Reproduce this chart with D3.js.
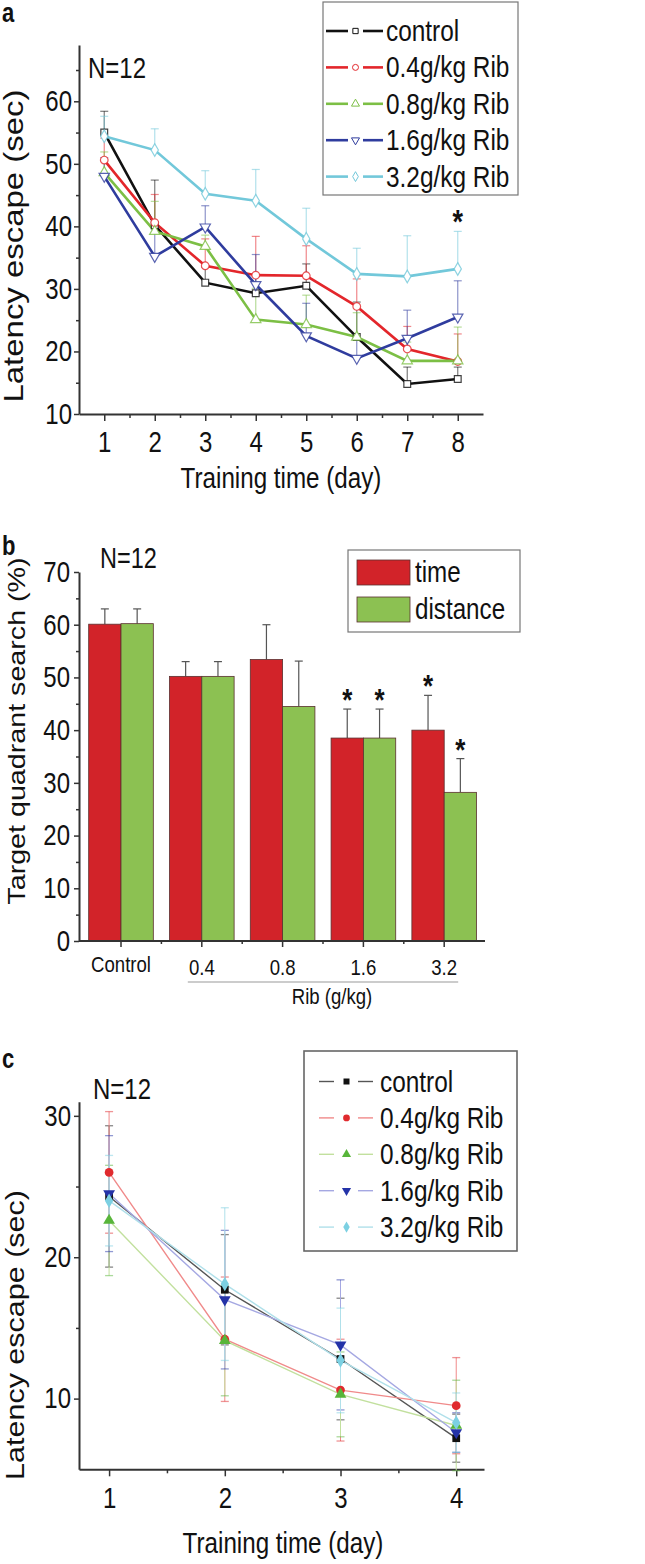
<!DOCTYPE html>
<html>
<head>
<meta charset="utf-8">
<script src="https://cdn.jsdelivr.net/npm/d3@7"></script>
<style>
  body { margin: 0; background: #fff; }
  svg { display: block; }
</style>
</head>
<body>
<div id="container"></div>
<script>
var w = 645,
  h = 1564;

var FONT = "'Liberation Sans', Arial, sans-serif";
var S = 1.22; // the figure is stretched vertically, text too

// ---- panel a data (latency, 8 training days)
var daysA = [1, 2, 3, 4, 5, 6, 7, 8];
var groupNames = ["control", "0.4g/kg Rib", "0.8g/kg Rib", "1.6g/kg Rib", "3.2g/kg Rib"];
var aControl = [55.0, 40.2, 31.0, 29.3, 30.5, 22.3, 14.8, 15.6];
var aRib04 = [50.6, 40.6, 33.7, 32.2, 32.1, 27.2, 20.4, 18.4];
var aRib08 = [48.6, 39.2, 36.8, 25.1, 24.3, 22.3, 18.5, 18.5];
var aRib16 = [48.0, 35.2, 39.9, 30.7, 22.5, 18.9, 22.1, 25.5];
var aRib32 = [54.4, 52.2, 45.2, 44.1, 38.0, 32.4, 32.0, 33.2];
var aControlErr = [3.4, 7.2, 2.5, 2.7, 3.5, 5.6, 2.7, 1.9];
var aRib04Err = [3.5, 4.5, 4.3, 6.2, 4.8, 4.4, 3.6, 4.4];
var aRib08Err = [3.3, 4.8, 1.8, 5.0, 4.7, 3.9, 3.0, 5.4];
var aRib16Err = [3.0, 4.3, 3.4, 4.8, 5.2, 3.0, 4.5, 5.8];
var aRib32Err = [3.2, 3.4, 3.7, 5.0, 4.9, 4.1, 6.5, 6.0];
var aYTicks = [10, 20, 30, 40, 50, 60];
var aYMinor = [15, 25, 35, 45, 55, 65];
var aXMinor = [1.5, 2.5, 3.5, 4.5, 5.5, 6.5, 7.5];

// ---- panel b data (probe trial)
var bCats = ["Control", "0.4", "0.8", "1.6", "3.2"];
var bSeries = ["time", "distance"];
var bTime = [60.1, 50.2, 53.4, 38.5, 40.0];
var bTimeErr = [2.9, 2.8, 6.6, 5.5, 6.6];
var bDist = [60.2, 50.2, 44.5, 38.5, 28.2];
var bDistErr = [2.8, 2.8, 8.6, 5.5, 6.4];
var bTimeSig = [false, false, false, true, true];
var bDistSig = [false, false, false, true, true];
var bYTicks = [0, 10, 20, 30, 40, 50, 60, 70];
var bYMinor = [5, 15, 25, 35, 45, 55, 65];

// ---- panel c data (latency, 4 days)
var daysC = [1, 2, 3, 4];
var cControl = [24.3, 17.7, 12.8, 7.2];
var cRib04 = [26.0, 14.2, 10.6, 9.5];
var cRib08 = [22.6, 14.1, 10.3, 8.1];
var cRib16 = [24.5, 17.0, 13.8, 7.6];
var cRib32 = [24.0, 18.1, 12.7, 8.3];
var cControlErr = [5.0, 3.9, 4.3, 1.7];
var cRib04Err = [4.3, 4.4, 3.6, 3.4];
var cRib08Err = [3.9, 3.9, 3.0, 3.2];
var cRib16Err = [4.1, 4.9, 4.6, 1.4];
var cRib32Err = [3.2, 5.4, 3.7, 2.1];
var cYTicks = [10, 20, 30];
var cYMinor = [15, 25];
var cXMinor = [1.5, 2.5, 3.5];

var aColors = ["#111111", "#e3262b", "#7cbf45", "#2f3c9e", "#72c8da"];
var cLineColors = ["#555555", "#f08a8a", "#c2e09e", "#a5a8e2", "#b0e0ea"];
var cMarkColors = ["#111111", "#e02a2e", "#58b53a", "#2433a8", "#7cd0e2"];
var symbols = [d3.symbolSquare, d3.symbolCircle, d3.symbolTriangle, d3.symbolTriangle, d3.symbolDiamond];
var flip = [false, false, false, true, false];

var svg = d3.select("#container").append("svg")
  .attr("width", w)
  .attr("height", h);

svg.append("rect").attr("width", w).attr("height", h).attr("fill", "#fff");

// text drawn with the same vertical stretch as the reference
function label(parent, x, y, size, txt, anchor, rotate, bold) {
  return parent.append("text")
    .attr("transform", "translate(" + x + "," + y + ") scale(1," + S + ")" + (rotate ? " rotate(-90)" : ""))
    .attr("text-anchor", anchor || "start")
    .attr("font-family", FONT)
    .attr("font-weight", bold ? "bold" : null)
    .attr("font-size", size)
    .attr("fill", "#111")
    .text(txt);
}

function styleAxis(g, bottom, base) {
  g.select(".domain").attr("stroke", "#333").attr("stroke-width", 2);
  g.selectAll(".tick line").attr("stroke", "#333").attr("stroke-width", 1.5);
  var t = g.selectAll(".tick text")
    .attr("font-family", FONT)
    .attr("font-size", 24)
    .attr("fill", "#111")
    .attr("transform", "scale(1," + S + ")");
  if (bottom) t.attr("dy", 0).attr("y", base / S);
}

function minorAxis(g) {
  g.select(".domain").remove();
  g.selectAll(".tick line").attr("stroke", "#333").attr("stroke-width", 1.5);
}

function marker(sel, i, size) {
  sel.attr("d", d3.symbol().type(symbols[i]).size(size))
}

// ================= panel a =================
var xA = d3.scaleLinear().domain([0.5, 8.5]).range([79, 483]);
var yA = d3.scaleLinear().domain([10, 69]).range([414, 45]);
var seriesA = [aControl, aRib04, aRib08, aRib16, aRib32];
var errA = [aControlErr, aRib04Err, aRib08Err, aRib16Err, aRib32Err];

label(svg, 2, 21.5, 22, "a", "start", false, true);

var gA = svg.append("g");

gA.append("g").attr("transform", "translate(79,0)")
  .call(d3.axisLeft(yA).tickValues(aYMinor).tickSize(3).tickFormat(""))
  .call(minorAxis);
gA.append("g").attr("transform", "translate(0,414)")
  .call(d3.axisBottom(xA).tickValues(aXMinor).tickSize(4).tickFormat(""))
  .call(minorAxis);
gA.append("g").attr("transform", "translate(79,0)")
  .call(d3.axisLeft(yA).tickValues(aYTicks).tickSize(5).tickSizeOuter(0).tickPadding(2))
  .call(styleAxis, false);
gA.append("g").attr("transform", "translate(0,414)")
  .call(d3.axisBottom(xA).tickValues(daysA).tickSize(7).tickSizeOuter(0).tickFormat(d3.format("d")))
  .call(styleAxis, true, 38.5);

label(gA, 23, 246, 27, "Latency escape (sec)", "middle", true);
label(gA, 281, 488, 24.2, "Training time (day)", "middle");
label(gA, 88, 78, 24, "N=12");

// error bars (upper)
seriesA.forEach(function (vals, i) {
  var eg = gA.append("g").attr("stroke", aColors[i]).attr("stroke-opacity", 0.55).attr("stroke-width", 1.2);
  eg.selectAll("line.v").data(daysA).enter().append("line")
    .attr("x1", d => xA(d)).attr("x2", d => xA(d))
    .attr("y1", (d, j) => yA(vals[j])).attr("y2", (d, j) => yA(vals[j] + errA[i][j]));
  eg.selectAll("line.c").data(daysA).enter().append("line")
    .attr("x1", d => xA(d) - 4).attr("x2", d => xA(d) + 4)
    .attr("y1", (d, j) => yA(vals[j] + errA[i][j])).attr("y2", (d, j) => yA(vals[j] + errA[i][j]));
});

var lineA = d3.line().x((d, j) => xA(daysA[j])).y(d => yA(d));
seriesA.forEach(function (vals, i) {
  gA.append("path").datum(vals)
    .attr("fill", "none").attr("stroke", aColors[i]).attr("stroke-width", 2.6)
    .attr("d", lineA);
});
seriesA.forEach(function (vals, i) {
  gA.selectAll(null).data(vals).enter().append("path")
    .attr("transform", (d, j) => "translate(" + xA(daysA[j]) + "," + yA(d) + ")" + (flip[i] ? " rotate(180)" : ""))
    .attr("fill", "#fff").attr("stroke", aColors[i]).attr("stroke-opacity", 0.8).attr("stroke-width", 1.2)
    .call(marker, i, 46);
});

// significance on day 8 (3.2g/kg)
label(gA, xA(8), yA(aRib32[7] + aRib32Err[7]) + 2, 27, "*", "middle", false, true);

// legend a
var legA = gA.append("g");
legA.append("rect").attr("x", 323).attr("y", 2).attr("width", 195).attr("height", 193)
  .attr("fill", "#fff").attr("stroke", "#777").attr("stroke-width", 1.2);
groupNames.forEach(function (name, i) {
  var y = 31 + i * 36.4;
  var r = legA.append("g").attr("transform", "translate(0," + y + ")");
  r.append("line").attr("x1", 326).attr("x2", 348).attr("stroke", aColors[i]).attr("stroke-width", 2.6);
  r.append("line").attr("x1", 363).attr("x2", 383).attr("stroke", aColors[i]).attr("stroke-width", 2.6);
  r.append("path").attr("transform", "translate(355.5,0)" + (flip[i] ? " rotate(180)" : ""))
    .attr("fill", "#fff").attr("stroke", aColors[i]).attr("stroke-width", 1)
    .call(marker, i, 28);
  label(r, 386, 10, 24.4, name);
});

// ================= panel b =================
var xB = d3.scaleBand().domain(bCats).range([80.6, 484.6]).paddingInner(0.2).paddingOuter(0.1);
var xB1 = d3.scaleBand().domain(bSeries).range([0, xB.bandwidth()]);
var yB = d3.scaleLinear().domain([0, 70]).range([941, 572]);
var bColors = ["#d22329", "#8cc152"];

label(svg, 2, 555, 22, "b", "start", false, true);

var gB = svg.append("g");
var bCenters = bCats.map(c => xB(c) + xB.bandwidth() / 2);
var bMinorX = bCenters.slice(1).map((c, i) => (c + bCenters[i]) / 2);

gB.append("g").attr("transform", "translate(79,0)")
  .call(d3.axisLeft(yB).tickValues(bYMinor).tickSize(3).tickFormat(""))
  .call(minorAxis);
gB.append("g").attr("transform", "translate(79,0)")
  .call(d3.axisLeft(yB).tickValues(bYTicks).tickSize(5).tickSizeOuter(0).tickPadding(4))
  .call(styleAxis, false);

var barData = [];
bCats.forEach(function (c, i) {
  barData.push({ cat: c, s: "time", v: bTime[i], e: bTimeErr[i], sig: bTimeSig[i] });
  barData.push({ cat: c, s: "distance", v: bDist[i], e: bDistErr[i], sig: bDistSig[i] });
});
var barMid = d => xB(d.cat) + xB1(d.s) + xB1.bandwidth() / 2;

// error bars (upper only)
var eb = gB.append("g").attr("stroke", "#555").attr("stroke-width", 1.2);
eb.selectAll("line.v").data(barData).enter().append("line")
  .attr("x1", barMid).attr("x2", barMid)
  .attr("y1", d => yB(d.v)).attr("y2", d => yB(d.v + d.e));
eb.selectAll("line.c").data(barData).enter().append("line")
  .attr("x1", d => barMid(d) - 4).attr("x2", d => barMid(d) + 4)
  .attr("y1", d => yB(d.v + d.e)).attr("y2", d => yB(d.v + d.e));

gB.selectAll("rect.bar").data(barData).enter().append("rect")
  .attr("x", d => xB(d.cat) + xB1(d.s))
  .attr("width", xB1.bandwidth())
  .attr("y", d => yB(d.v))
  .attr("height", d => yB(0) - yB(d.v))
  .attr("fill", d => d.s === "time" ? bColors[0] : bColors[1])
  .attr("stroke", "#5a3030").attr("stroke-width", 0.8);

barData.filter(d => d.sig).forEach(function (d) {
  label(gB, barMid(d), yB(d.v + d.e) + 2, 26, "*", "middle", false, true);
});

gB.append("line").attr("x1", 79).attr("x2", 485).attr("y1", 941).attr("y2", 941)
  .attr("stroke", "#333").attr("stroke-width", 2);
gB.selectAll("line.mj").data(bCenters).enter().append("line")
  .attr("x1", d => d).attr("x2", d => d).attr("y1", 941).attr("y2", 947)
  .attr("stroke", "#333").attr("stroke-width", 1.5);
gB.selectAll("line.mn").data(bMinorX).enter().append("line")
  .attr("x1", d => d).attr("x2", d => d).attr("y1", 941).attr("y2", 944)
  .attr("stroke", "#333").attr("stroke-width", 1.5);
bCats.forEach(function (c) {
  label(gB, xB(c) + xB.bandwidth() / 2, c === "Control" ? 971.5 : 975, 18.6, c, "middle");
});
gB.append("line")
  .attr("x1", xB("0.4") + xB.bandwidth() / 2 - 14)
  .attr("x2", xB("3.2") + xB.bandwidth() / 2 + 14)
  .attr("y1", 982).attr("y2", 982).attr("stroke", "#bbb").attr("stroke-width", 1.5);
label(gB, 332, 1004, 18.6, "Rib (g/kg)", "middle");

label(gB, 25, 731, 23.5, "Target quadrant search (%)", "middle", true);
label(gB, 100, 568, 23.5, "N=12");

var legB = gB.append("g");
legB.append("rect").attr("x", 348).attr("y", 550).attr("width", 172).attr("height", 82)
  .attr("fill", "#fff").attr("stroke", "#777").attr("stroke-width", 1.2);
bSeries.forEach(function (s, i) {
  var y = 560 + i * 37;
  legB.append("rect").attr("x", 357).attr("y", y).attr("width", 53).attr("height", 25)
    .attr("fill", bColors[i]).attr("stroke", "#5a3030").attr("stroke-width", 0.8);
  label(legB, 415, y + 22, 24.2, s);
});

// ================= panel c =================
var xC = d3.scaleLinear().domain([0.74, 4.24]).range([79, 484]);
var yC = d3.scaleLinear().domain([5, 31]).range([1469.3, 1101.7]);
var seriesC = [cControl, cRib04, cRib08, cRib16, cRib32];
var errC = [cControlErr, cRib04Err, cRib08Err, cRib16Err, cRib32Err];

label(svg, 2, 1068, 22, "c", "start", false, true);

var gC = svg.append("g");
gC.append("g").attr("transform", "translate(79,0)")
  .call(d3.axisLeft(yC).tickValues(cYMinor).tickSize(3).tickFormat(""))
  .call(minorAxis);
gC.append("g").attr("transform", "translate(0,1469.3)")
  .call(d3.axisBottom(xC).tickValues(cXMinor).tickSize(4).tickFormat(""))
  .call(minorAxis);
gC.append("g").attr("transform", "translate(79,0)")
  .call(d3.axisLeft(yC).tickValues(cYTicks).tickSize(5).tickSizeOuter(0).tickPadding(3))
  .call(styleAxis, false);
gC.append("g").attr("transform", "translate(0,1469.3)")
  .call(d3.axisBottom(xC).tickValues(daysC).tickSize(7).tickSizeOuter(0).tickFormat(d3.format("d")))
  .call(styleAxis, true, 39);

label(gC, 24, 1335, 25, "Latency escape (sec)", "middle", true);
label(gC, 283, 1553, 24.2, "Training time (day)", "middle");
label(gC, 93, 1099, 24, "N=12");

seriesC.forEach(function (vals, i) {
  var eg = gC.append("g").attr("stroke", cLineColors[i]).attr("stroke-width", 1);
  eg.selectAll("line.v").data(daysC).enter().append("line")
    .attr("x1", d => xC(d)).attr("x2", d => xC(d))
    .attr("y1", (d, j) => yC(vals[j] - errC[i][j])).attr("y2", (d, j) => yC(vals[j] + errC[i][j]));
  eg.selectAll("line.t").data(daysC).enter().append("line")
    .attr("x1", d => xC(d) - 4).attr("x2", d => xC(d) + 4)
    .attr("stroke", cMarkColors[i]).attr("stroke-opacity", 0.5).attr("stroke-width", 1.3)
    .attr("y1", (d, j) => yC(vals[j] + errC[i][j])).attr("y2", (d, j) => yC(vals[j] + errC[i][j]));
  eg.selectAll("line.b").data(daysC).enter().append("line")
    .attr("x1", d => xC(d) - 4).attr("x2", d => xC(d) + 4)
    .attr("stroke", cMarkColors[i]).attr("stroke-opacity", 0.5).attr("stroke-width", 1.3)
    .attr("y1", (d, j) => yC(vals[j] - errC[i][j])).attr("y2", (d, j) => yC(vals[j] - errC[i][j]));
});

var lineC = d3.line().x((d, j) => xC(daysC[j])).y(d => yC(d));
seriesC.forEach(function (vals, i) {
  gC.append("path").datum(vals)
    .attr("fill", "none").attr("stroke", cLineColors[i]).attr("stroke-width", 1.4)
    .attr("d", lineC);
});
seriesC.forEach(function (vals, i) {
  gC.selectAll(null).data(vals).enter().append("path")
    .attr("transform", (d, j) => "translate(" + xC(daysC[j]) + "," + yC(d) + ")" + (flip[i] ? " rotate(180)" : ""))
    .attr("fill", cMarkColors[i])
    .call(marker, i, 60);
});

var legC = gC.append("g");
legC.append("rect").attr("x", 304).attr("y", 1051).attr("width", 213).attr("height", 200)
  .attr("fill", "#fff").attr("stroke", "#666").attr("stroke-width", 1.6);
groupNames.forEach(function (name, i) {
  var y = 1081.5 + i * 36.4;
  var r = legC.append("g").attr("transform", "translate(0," + y + ")");
  r.append("line").attr("x1", 319).attr("x2", 334).attr("stroke", cLineColors[i]).attr("stroke-width", 1.4);
  r.append("line").attr("x1", 358).attr("x2", 373).attr("stroke", cLineColors[i]).attr("stroke-width", 1.4);
  r.append("path").attr("transform", "translate(346.5,0)" + (flip[i] ? " rotate(180)" : ""))
    .attr("fill", cMarkColors[i])
    .call(marker, i, 36);
  label(r, 380, 10, 24.4, name);
});
</script>
</body>
</html>
